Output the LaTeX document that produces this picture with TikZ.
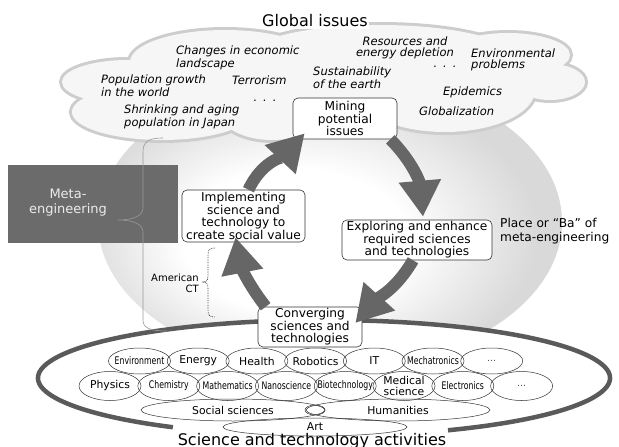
\documentclass[tikz,border=0pt]{standalone}
\usepackage{fontspec}
\setmainfont{DejaVu Sans}
\newfontfamily\narrowfont{DejaVu Sans}[FakeStretch=0.74]
\usetikzlibrary{arrows.meta}

\definecolor{cyclegray}{HTML}{666666}
\definecolor{metagray}{HTML}{6B6B6B}
\definecolor{cloudline}{HTML}{CDCDCD}
\definecolor{cloudfill}{HTML}{F6F6F6}
\definecolor{actline}{HTML}{5A5A5A}

% soft grey "Ba" behind the cycle
\pgfdeclareradialshading{place}{\pgfpoint{-5bp}{-4bp}}{color(0bp)=(white); color(12bp)=(white); color(25bp)=(black!15); color(50bp)=(black!15)}

\begin{document}
\begin{tikzpicture}[x=1pt,y=1pt,
    stepbox/.style={draw=black!80, line width=0.6pt, fill=white, rounded corners=5pt, align=center, inner sep=1pt, font=\fontsize{12.2}{12.4}\selectfont},
    issue/.style={font=\itshape\fontsize{11.5}{11}\selectfont, align=left, inner sep=0pt, anchor=north west},
    field/.style={draw=black!80, line width=0.5pt},
    fieldtext/.style={font=\fontsize{10.8}{10.5}\selectfont, inner sep=0pt, align=center},
    narrowtext/.style={font=\narrowfont\fontsize{10.5}{10.5}\selectfont, inner sep=0pt},
    cyc/.style={draw=cyclegray, line width=12pt, -{Triangle[width=40pt,length=36pt]}},
]
    \useasboundingbox (0,0) rectangle (619,-447);
    \shade[shading=place] (330,-222) ellipse [x radius=232, y radius=148];

    % Global issues cloud: outline of all lumps, then fill over
    \def\cloudlumps{225/62/95/32, 128/82/66/22, 162/112/90/28, 272/112/52/28, 380/55/130/30, 330/90/110/40, 508/55/62/22, 445/90/90/42, 550/82/35/18}
    \foreach \cx/\cy/\rx/\ry in \cloudlumps
        \draw[cloudline, line width=6pt] (\cx,-\cy) ellipse [x radius=\rx, y radius=\ry];
    \foreach \cx/\cy/\rx/\ry in \cloudlumps
        \fill[cloudfill] (\cx,-\cy) ellipse [x radius=\rx, y radius=\ry];
    \node[fill=white, inner sep=1.5pt, font=\fontsize{16}{16}\selectfont] (gi) at (315,-21) {Global issues};

    \node[issue] (econ) at (176,-46) {Changes in economic\\landscape};
    \node[issue] (popgrowth) at (101,-75) {Population growth\\in the world};
    \node[issue] (terror) at (232,-76) {Terrorism};
    \node[issue] (shrink) at (124,-105) {Shrinking and aging\\population in Japan};
    \node[issue, anchor=center] (etc1) at (265,-101) {.\hspace{6pt}.\hspace{6pt}.};
    \node[issue] (sustain) at (313,-67) {Sustainability\\of the earth};
    \node[issue, anchor=north, align=center] (resource) at (405,-37) {Resources and\\energy depletion};
    \node[issue, anchor=center] (etc2) at (445,-67) {.\hspace{6pt}.\hspace{6pt}.};
    \node[issue] (environ) at (471,-49) {Environmental\\problems};
    \node[issue] (epidem) at (443,-87) {Epidemics};
    \node[issue] (global) at (419,-107) {Globalization};

    % Science and technology activities (outline left open under the title)
    \fill[white] (324,-378) ellipse [x radius=286, y radius=58];
    \draw[actline, line width=4.5pt] (324,-378) ++(-64.3:286 and 58) arc [start angle=-64.3, end angle=238.1, x radius=286, y radius=58];
    % top row
    \node[narrowtext] (env) at (139.5,-361) {Environment};
    \node[fieldtext] (energy) at (198.2,-361) {Energy};
    \node[fieldtext] (health) at (256.9,-361) {Health};
    \node[fieldtext] (robot) at (315.6,-361) {Robotics};
    \node[fieldtext] (it) at (374.3,-361) {IT};
    \node[narrowtext] (mecha) at (433,-361) {Mechatronics};
    \node[fieldtext, text=black!70, font=\fontsize{9}{9}\selectfont] (more1) at (491.7,-361) {…};
    \foreach \n in {env,energy,health,robot,it,mecha,more1}
        \draw[field] (\n) ellipse [x radius=31, y radius=13];
    % second row
    \node[fieldtext] (phys) at (110,-386) {Physics};
    \node[narrowtext] (chem) at (168.8,-386) {Chemistry};
    \node[narrowtext] (math) at (227.6,-386) {Mathematics};
    \node[narrowtext] (nano) at (286.4,-386) {Nanoscience};
    \node[narrowtext] (bio) at (345.2,-386) {Biotechnology};
    \node[fieldtext] (med) at (404,-386) {Medical\\science};
    \node[narrowtext] (elec) at (462.8,-386) {Electronics};
    \node[fieldtext, text=black!70, font=\fontsize{9}{9}\selectfont] (more2) at (521.6,-386) {…};
    \foreach \n in {phys,chem,math,nano,bio,med,elec,more2}
        \draw[field] (\n) ellipse [x radius=31, y radius=14.5];
    % bottom rows
    \node[fieldtext] (social) at (233,-410) {Social sciences};
    \node[fieldtext] (human) at (398,-410) {Humanities};
    \node[fieldtext] (art) at (315,-427) {Art};
    \draw[field] (social) ellipse [x radius=92, y radius=11];
    \draw[field] (human) ellipse [x radius=92, y radius=11];
    \draw[field] (315,-410) ellipse [x radius=10, y radius=5];
    \draw[field] (art) ellipse [x radius=92, y radius=9];

    % Meta-engineering and its brace
    \fill[metagray] (8,-165) rectangle (178,-243);
    \node[text=black!8, align=center, font=\fontsize{13}{15}\selectfont] (meta) at (68,-203) {Meta-\\engineering};
    \draw[black!40, line width=0.6pt] (163,-138) .. controls (148,-138) and (143,-142) .. (143,-152)
        -- (143,-208) .. controls (143,-216) and (133,-220) .. (118,-220)
        .. controls (133,-220) and (143,-224) .. (143,-232)
        -- (143,-320) .. controls (143,-328) and (150,-331) .. (167,-331);

    % American CT
    \node[align=right, inner sep=0pt, anchor=east, font=\fontsize{10}{11}\selectfont] (ct) at (199,-283) {American\\CT};
    \draw[densely dotted, black!80, line width=0.7pt] (215,-248) .. controls (209,-248) and (208,-250) .. (208,-256)
        -- (208,-276) .. controls (208,-281) and (206,-282) .. (202,-282)
        .. controls (206,-282) and (208,-283) .. (208,-288)
        -- (208,-309) .. controls (208,-315) and (209,-317) .. (215,-317);

    % the cycle
    \node[stepbox, minimum width=104pt, minimum height=41pt] (mine) at (345,-118.5) {Mining\\potential\\issues};
    \node[stepbox, minimum width=150pt, minimum height=40pt] (explore) at (417,-240) {Exploring and enhance\\required sciences\\and technologies};
    \node[stepbox, minimum width=104pt, minimum height=40pt] (conv) at (310,-327) {Converging\\sciences and\\technologies};
    \node[stepbox, minimum width=123pt, minimum height=52pt] (impl) at (243.5,-216) {Implementing\\science and\\technology to\\create social value};

    \draw[cyc] ([xshift=-7pt]mine.south east) to[out=-45,in=95] ([xshift=6pt,yshift=3pt]explore.north);
    \draw[cyc] ([xshift=-4pt]explore.south) to[out=-120,in=48] ([xshift=-7pt,yshift=4pt]conv.east);
    \draw[cyc] ([xshift=8pt]conv.north west) to[out=128,in=-79] ([xshift=-8pt,yshift=5pt]impl.south);
    \draw[cyc] ([xshift=5pt]impl.north) to[out=65,in=-133] ([xshift=12pt,yshift=6pt]mine.south west);

    \node[align=left, inner sep=0pt, anchor=north west, font=\fontsize{12.2}{14}\selectfont] (ba) at (500,-218) {Place or ``Ba'' of\\meta-engineering};

    \node[inner sep=0pt, anchor=base, font=\fontsize{16}{16}\selectfont] (act) at (312,-445) {Science and technology activities};
\end{tikzpicture}
\end{document}
